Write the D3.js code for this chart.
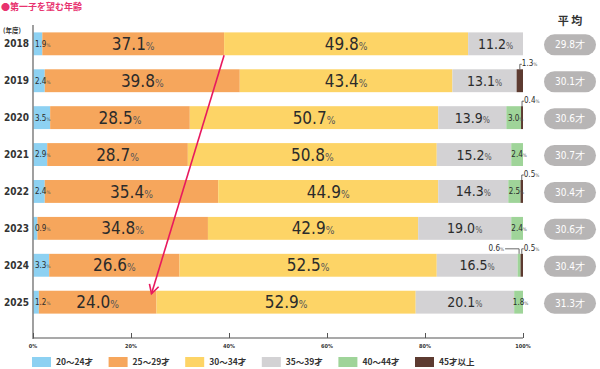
<!DOCTYPE html>
<html>
<head>
<meta charset="utf-8">
<script src="https://cdn.jsdelivr.net/npm/d3@7"></script>
<style>
  body { margin: 0; background: #fff; }
  svg { display: block; }
  .num { font-family: "DejaVu Sans Condensed", "DejaVu Sans", sans-serif; font-stretch: condensed; }
  .jp { font-family: "Noto Sans CJK JP", sans-serif; }
</style>
</head>
<body>
<script>
// chart values
var years = ["2018", "2019", "2020", "2021", "2022", "2023", "2024", "2025"];
var groups = ["20～24才", "25～29才", "30～34才", "35～39才", "40～44才", "45才以上"];
var age20 = [1.9, 2.4, 3.5, 2.9, 2.4, 0.9, 3.3, 1.2];
var age25 = [37.1, 39.8, 28.5, 28.7, 35.4, 34.8, 26.6, 24.0];
var age30 = [49.8, 43.4, 50.7, 50.8, 44.9, 42.9, 52.5, 52.9];
var age35 = [11.2, 13.1, 13.9, 15.2, 14.3, 19.0, 16.5, 20.1];
var age40 = [0, 0, 3.0, 2.4, 2.5, 2.4, 0.6, 1.8];
var age45 = [0, 1.3, 0.4, 0, 0.5, 0, 0.5, 0];
var averages = [29.8, 30.1, 30.6, 30.7, 30.4, 30.6, 30.4, 31.3];
var ticks = [0, 20, 40, 60, 80, 100];

var colors = ["#8dd1f2", "#f6a65c", "#fdd466", "#d3d2d4", "#9fd499", "#5d3b31"];

var width = 600, height = 369;

var series = [age20, age25, age30, age35, age40, age45];
var rows = years.map(function(y, i) {
    var r = { year: y };
    groups.forEach(function(g, k) { r[g] = series[k][i]; });
    return r;
});
var stacked = d3.stack().keys(groups)(rows);

var x = d3.scaleLinear().domain([0, 100]).range([33, 523]);
var y = d3.scaleBand().domain(years).range([25, 321]).paddingInner(0.38).paddingOuter(0.2);

var svg = d3.select("body").append("svg")
    .attr("width", width)
    .attr("height", height);

// title
svg.append("text")
    .attr("class", "jp")
    .attr("x", 1).attr("y", 10)
    .attr("font-size", 9).attr("font-weight", "bold")
    .attr("fill", "#e8336f")
    .text("●第一子を望む年齢");

svg.append("text")
    .attr("class", "jp")
    .attr("x", 3).attr("y", 33)
    .attr("font-size", 6.5).attr("font-weight", "bold")
    .attr("fill", "#333")
    .text("(年度)");

svg.append("text")
    .attr("class", "jp")
    .attr("x", 570).attr("y", 25)
    .attr("text-anchor", "middle")
    .attr("font-size", 11).attr("font-weight", "bold")
    .attr("fill", "#333")
    .text("平 均");

// bars
var layer = svg.selectAll(".layer")
    .data(stacked)
    .enter().append("g")
    .attr("class", "layer")
    .attr("fill", function(d, i) { return colors[i]; });

layer.selectAll("rect")
    .data(function(d) { return d; })
    .enter().append("rect")
    .attr("x", function(d) { return x(d[0]); })
    .attr("y", function(d) { return y(d.data.year); })
    .attr("width", function(d) { return x(d[1]) - x(d[0]); })
    .attr("height", y.bandwidth());

// value labels
function label(g, cx, cy, value, size, anchor) {
    var t = g.append("text")
        .attr("class", "num")
        .attr("x", cx).attr("y", cy)
        .attr("dy", "0.36em")
        .attr("text-anchor", anchor || "middle")
        .attr("fill", "#2b2b2b")
        .attr("font-size", size);
    t.append("tspan").text(value.toFixed(1));
    t.append("tspan").attr("font-size", size * 0.6).attr("fill", "#555").text("%");
    return t;
}

var labels = svg.append("g");
stacked.forEach(function(s, k) {
    s.forEach(function(d, i) {
        var v = d[1] - d[0];
        if (v <= 0) return;
        var cy = y(d.data.year) + y.bandwidth() / 2;
        var mid = (x(d[0]) + x(d[1])) / 2;
        if (k === 0) {
            label(labels, x(0) + 2, cy, v, 8, "start");
        } else if (k === 1 || k === 2) {
            label(labels, mid, cy, v, 17);
        } else if (k === 3) {
            label(labels, mid, cy, v, 14);
        } else if (k === 4 && v > 1) {
            label(labels, mid + 2, cy, v, 8);
        }
    });
});

// small callouts above bars
var call = svg.append("g").attr("stroke", "#444").attr("fill", "none").attr("stroke-width", 0.8);
stacked[5].forEach(function(d, i) {
    var v = d[1] - d[0];
    if (v <= 0) return;
    var top = y(d.data.year);
    var bx = (x(d[0]) + x(d[1])) / 2;
    call.append("path").attr("d", "M" + bx + "," + top + "V" + (top - 5) + "H" + (bx + 2));
    label(labels, bx + 2, top - 6, v, 8, "start");
});
stacked[4].forEach(function(d, i) {
    var v = d[1] - d[0];
    if (v <= 0 || v > 1) return;
    var top = y(d.data.year);
    var bx = (x(d[0]) + x(d[1])) / 2;
    call.append("path").attr("d", "M" + bx + "," + top + "V" + (top - 5) + "H" + (bx - 14));
    label(labels, bx - 15, top - 6, v, 8, "end");
});

// average pills
var pill = svg.selectAll(".pill")
    .data(averages)
    .enter().append("g")
    .attr("class", "pill")
    .attr("transform", function(d, i) {
        return "translate(570," + (y(years[i]) + y.bandwidth() / 2 + 1) + ")";
    });

pill.append("rect")
    .attr("x", -26).attr("y", -10.5)
    .attr("width", 52).attr("height", 21)
    .attr("rx", 10.5)
    .attr("fill", "#b7b5b5");

pill.append("text")
    .attr("class", "num")
    .attr("text-anchor", "middle")
    .attr("dy", "0.36em")
    .attr("fill", "#fff")
    .attr("font-size", 10)
    .text(function(d) { return d.toFixed(1) + "才"; });

// axes
svg.append("line")
    .attr("x1", x(0)).attr("x2", x(0))
    .attr("y1", 25).attr("y2", 339)
    .attr("stroke", "#888").attr("stroke-width", 1.6);

var xAxis = svg.append("g")
    .attr("transform", "translate(0,338)")
    .call(d3.axisTop(x).tickValues(ticks).tickSize(5).tickFormat(""));
xAxis.select(".domain").attr("d", "M" + x(0) + ",0H" + x(100)).attr("stroke", "#555").attr("stroke-width", 1.2);
xAxis.selectAll(".tick line").attr("stroke", "#555");

svg.selectAll(".tickl")
    .data(ticks)
    .enter().append("text")
    .attr("class", "num")
    .attr("x", function(d) { return x(d); })
    .attr("y", 348)
    .attr("text-anchor", "middle")
    .attr("font-size", 5.5)
    .attr("font-weight", "bold")
    .attr("fill", "#333")
    .text(function(d) { return d + "%"; });

// years
svg.selectAll(".year")
    .data(years)
    .enter().append("text")
    .attr("class", "num")
    .attr("x", 4)
    .attr("y", function(d) { return y(d) + y.bandwidth() / 2; })
    .attr("dy", "0.36em")
    .attr("font-size", 10)
    .attr("font-weight", "bold")
    .attr("fill", "#333")
    .text(function(d) { return d; });

// arrow from 2018 to 2025 boundary between 25-29 and 30-34
var a0 = stacked[1][0], a1 = stacked[1][7];
var sx = x(a0[1]), sy = y(years[0]) + y.bandwidth();
var ex = x(a1[1]) - 5, ey = y(years[7]) + 3;
var ang = Math.atan2(ey - sy, ex - sx);
svg.append("line")
    .attr("x1", sx).attr("y1", sy).attr("x2", ex).attr("y2", ey)
    .attr("stroke", "#e8195e").attr("stroke-width", 1.6);
var hl = 10;
svg.append("path")
    .attr("d", "M" + (ex - hl * Math.cos(ang - 0.5)) + "," + (ey - hl * Math.sin(ang - 0.5)) +
        "L" + ex + "," + ey +
        "L" + (ex - hl * Math.cos(ang + 0.5)) + "," + (ey - hl * Math.sin(ang + 0.5)))
    .attr("fill", "none").attr("stroke", "#e8195e").attr("stroke-width", 1.6);

// legend
var legend = svg.selectAll(".legend")
    .data(groups)
    .enter().append("g")
    .attr("class", "legend")
    .attr("transform", function(d, i) { return "translate(" + (32 + i * 76.6) + ",357)"; });

legend.append("rect")
    .attr("width", 19).attr("height", 10)
    .attr("fill", function(d, i) { return colors[i]; });

legend.append("text")
    .attr("class", "jp")
    .attr("x", 24).attr("y", 5)
    .attr("dy", "0.36em")
    .attr("font-size", 8.5)
    .attr("font-weight", "bold")
    .attr("fill", "#333")
    .text(function(d) { return d; });
</script>
</body>
</html>
